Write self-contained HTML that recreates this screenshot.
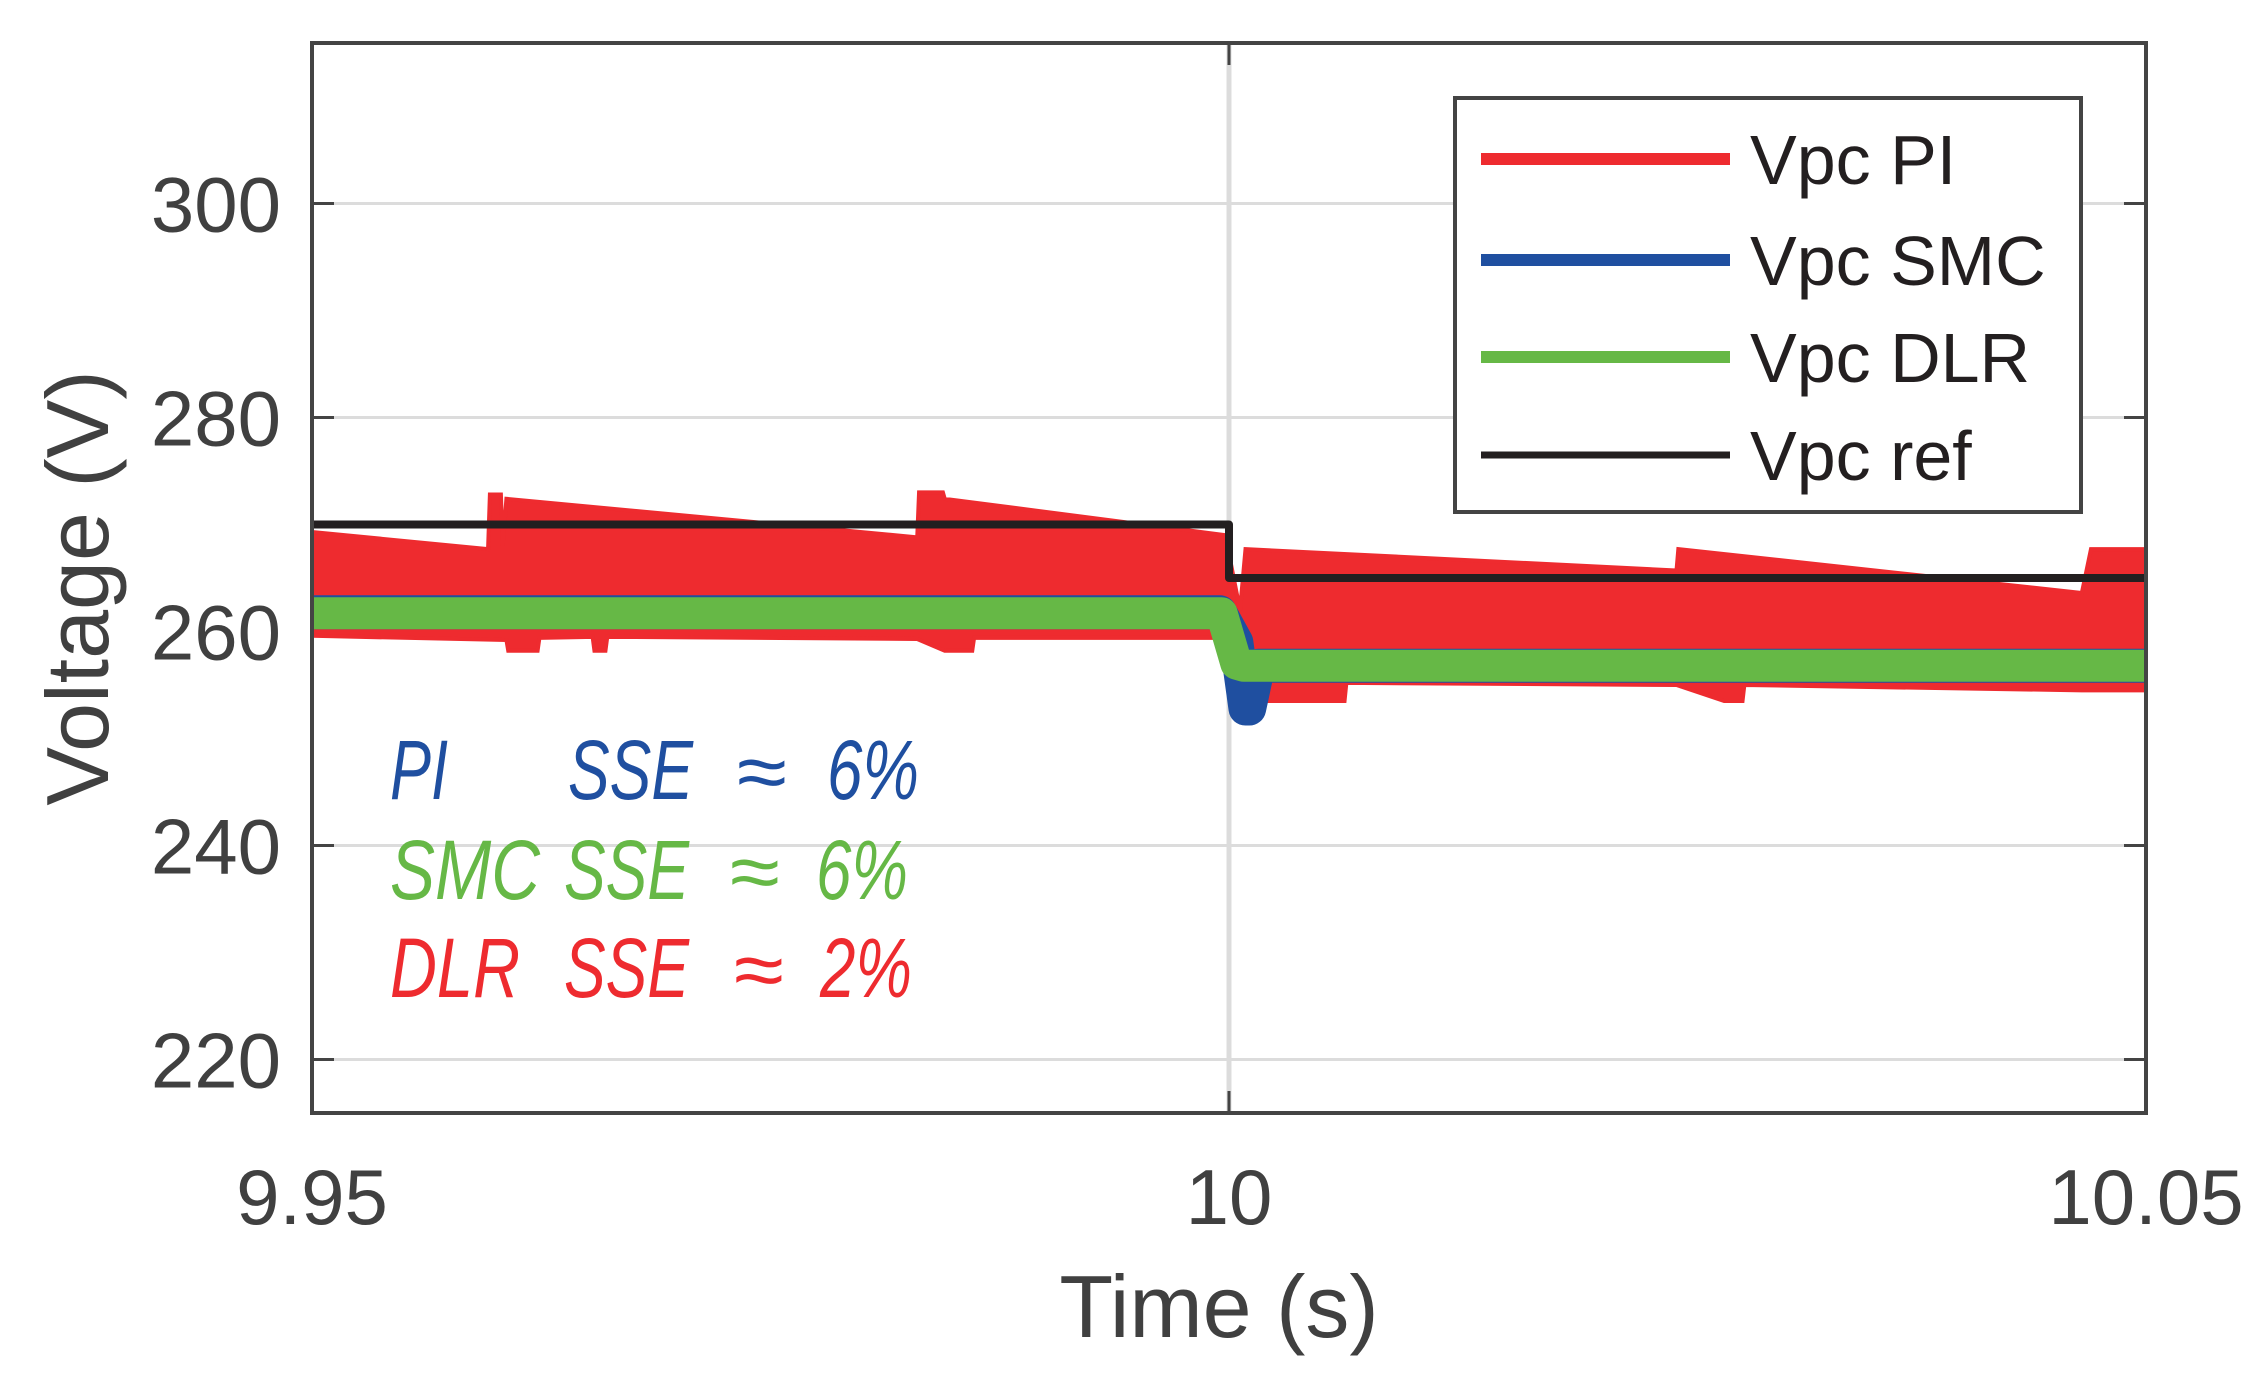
<!DOCTYPE html>
<html><head><meta charset="utf-8"><style>
html,body{margin:0;padding:0;background:#fff;}
svg{display:block;}
text{font-family:"Liberation Sans",Arial,sans-serif;}
</style></head><body>
<svg id="chart" width="2266" height="1386" viewBox="0 0 2266 1386"></svg>
<script>
const xTicks=[9.95,10,10.05];
const xTickLabels=["9.95","10","10.05"];
const yTicks=[220,240,260,280,300];
const yTickLabels=["220","240","260","280","300"];
const refT=[9.95,10.0,10.0,10.05];
const refV=[270,270,265,265];
const piUpperT=[9.95,9.9596,9.9597,9.9603,9.9604,9.9606,9.983,9.9831,9.9844,9.9845,9.9998,10.0006,10.0009,10.0244,10.0245,10.0465,10.047,10.05];
const piUpperV=[269.3,267.7,272.8,272.8,268,272.4,268.8,273,273,272.4,269,262,267.7,265.7,267.7,263.6,267.7,267.7];
const piLowerT=[9.95,9.9606,9.9607,9.9623,9.9624,9.9653,9.9654,9.966,9.9661,9.983,9.9845,9.986,9.9861,10.0,10.0009,10.0063,10.0064,10.0244,10.027,10.028,10.0281,10.0465,10.05];
const piLowerV=[259.6,259.2,258.2,258.2,259.4,259.5,258.2,258.2,259.5,259.3,258.2,258.2,259.4,259.4,253.5,253.5,255.2,255,253.5,253.5,255,254.5,254.5];
const smcT=[9.95,9.9995,10.0004,10.0009,10.0011,10.0016,10.05];
const smcV=[261.8,261.8,259,252.8,252.8,256.8,256.8];
const dlrT=[9.95,9.9996,10.0004,10.0008,10.05];
const dlrV=[261.7,261.7,257,256.8,256.8];
const seriesNames=["Vpc PI","Vpc SMC","Vpc DLR","Vpc ref"];
const seriesColors=["#ee2b2f","#1f4fa0","#66b846","#231f20"];

const L=312,R=2146,T=43,B=1113,X0=9.95,X1=10.05,Y0=215,Y1=315;
const sx=t=>L+(t-X0)/(X1-X0)*(R-L);
const sy=v=>B-(v-Y0)/(Y1-Y0)*(B-T);
const NS="http://www.w3.org/2000/svg";
const svg=document.getElementById('chart');
function mk(tag,attrs,parent){const e=document.createElementNS(NS,tag);for(const k in attrs)e.setAttribute(k,attrs[k]);(parent||svg).appendChild(e);return e;}

const defs=mk('defs',{});
const cp=mk('clipPath',{id:'clip'},defs);
mk('rect',{x:L,y:T,width:R-L,height:B-T},cp);

yTicks.forEach((v,i)=>{
  const g=mk('line',{x1:L,x2:R,y1:sy(v),y2:sy(v),stroke:'#dcdcdc','stroke-width':3});
  
  
  const tk=mk('line',{x1:L,x2:L+22,y1:sy(v),y2:sy(v),stroke:'#444','stroke-width':3});
  
  
  const tk2=mk('line',{x1:R-22,x2:R,y1:sy(v),y2:sy(v),stroke:'#444','stroke-width':3});
  
  
  const t=mk('text',{x:281,y:sy(v)+28,'text-anchor':'end','font-size':78,fill:'#404040'});
  t.textContent=yTickLabels[i];
  
  
});
xTicks.forEach((v,i)=>{
  if(i>0&&i<xTicks.length-1){
    const g=mk('line',{x1:sx(v),x2:sx(v),y1:T,y2:B,stroke:'#dcdcdc','stroke-width':5});
    
    
  }
  const tk=mk('line',{x1:sx(v),x2:sx(v),y1:B-22,y2:B,stroke:'#444','stroke-width':3});
  
  
  const tk2=mk('line',{x1:sx(v),x2:sx(v),y1:T,y2:T+22,stroke:'#444','stroke-width':3});
  
  
  const t=mk('text',{x:sx(v),y:1224,'text-anchor':'middle','font-size':78,fill:'#404040'});
  t.textContent=xTickLabels[i];
  
  
});

const plot=mk('g',{'clip-path':'url(#clip)'});



let d='M'+piUpperT.map((t,i)=>sx(t)+','+sy(piUpperV[i])).join(' L');
for(let i=piLowerT.length-1;i>=0;i--) d+=' L'+sx(piLowerT[i])+','+sy(piLowerV[i]);
d+='Z';
const pi=mk('path',{d:d,fill:seriesColors[0],stroke:seriesColors[0],'stroke-width':4},plot);



function poly(T_,V_,color,w,name){
  const p=mk('polyline',{points:T_.map((t,i)=>sx(t)+','+sy(V_[i])).join(' '),fill:'none',stroke:color,'stroke-width':w,'stroke-linejoin':'round','stroke-linecap':'round'},plot);
  
  
}
poly(smcT,smcV,seriesColors[1],34,'series-vpc-smc');
poly(dlrT,dlrV,seriesColors[2],32,'series-vpc-dlr');
poly(refT,refV,seriesColors[3],8,'series-vpc-ref');

const fr=mk('rect',{x:L,y:T,width:R-L,height:B-T,fill:'none',stroke:'#444','stroke-width':4});



const lg=mk('g',{});


mk('rect',{x:1455,y:98,width:626,height:414,fill:'#fff',stroke:'#444','stroke-width':4},lg);
const ly=[159,260,357,455];
seriesNames.forEach((n,i)=>{
  const e=mk('g',{},lg);
  
  
  mk('line',{x1:1481,x2:1730,y1:ly[i],y2:ly[i],stroke:seriesColors[i],'stroke-width':i==3?7:12},e);
  const t=mk('text',{x:1750,y:ly[i]+25,'font-size':70,fill:'#231f20'},e);
  t.textContent=n;
});

const xt=mk('text',{x:1219,y:1337,'text-anchor':'middle','font-size':88,fill:'#404040'});
xt.textContent='Time (s)';


const yt=mk('text',{x:0,y:0,'text-anchor':'middle','font-size':88,fill:'#404040',transform:'translate(108,588) rotate(-90)'});
yt.textContent='Voltage (V)';



const ann=[
 {c:'#1f4fa0',y:799,a:'PI',xs:[390,568,737,827],p:'6%',n:'annotation-pi-sse'},
 {c:'#66b846',y:899,a:'SMC',xs:[390,564,730,816],p:'6%',n:'annotation-smc-sse'},
 {c:'#ee2b2f',y:997,a:'DLR',xs:[390,564,734,820],p:'2%',n:'annotation-dlr-sse'}];
ann.forEach(o=>{
  const g=mk('g',{fill:o.c,'font-size':84,'font-style':'italic'});
  
  
  [o.a,'SSE','\u2248',o.p].forEach((s,i)=>{
    const t=mk('text',{x:o.xs[i],y:o.y,textLength:i==0?(o.a=='PI'?58:(o.a=='SMC'?150:130)):(i==1?125:(i==2?50:92)),lengthAdjust:'spacingAndGlyphs'},g);
    if(i==2){t.setAttribute('font-size',80);t.setAttribute('font-style','normal');}
    t.textContent=s;
  });
});
</script>
</body></html>
